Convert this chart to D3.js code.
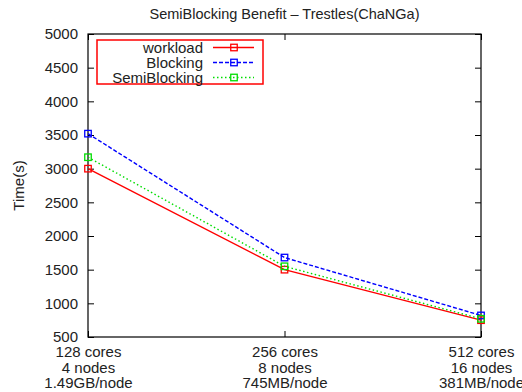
<!DOCTYPE html>
<html>
<head>
<meta charset="utf-8">
<script src="https://cdn.jsdelivr.net/npm/d3@7"></script>
<style>
  body { margin: 0; background: #fff; }
  svg { font-family: "Liberation Sans", Arial, Helvetica, sans-serif; }
</style>
</head>
<body>
<div id="chart"></div>
<script>
// Categories along x (three lines of text each)
const categories = [
  ["128 cores", "4 nodes", "1.49GB/node"],
  ["256 cores", "8 nodes", "745MB/node"],
  ["512 cores", "16 nodes", "381MB/node"],
];
const workload = [3000, 1500, 750];
const blocking = [3520, 1680, 820];
const semiBlocking = [3170, 1550, 770];
const yTicks = [500, 1000, 1500, 2000, 2500, 3000, 3500, 4000, 4500, 5000];

const series = [
  { name: "workload", values: workload, color: "#ff0000", dash: null },
  { name: "Blocking", values: blocking, color: "#0000ff", dash: "4,2" },
  { name: "SemiBlocking", values: semiBlocking, color: "#00dd00", dash: "1.5,2.5" },
];

const W = 522, H = 392;
const M = { top: 34, right: 41, bottom: 55, left: 88 };
const innerW = W - M.left - M.right;
const innerH = H - M.top - M.bottom;
const FS = 15;

const svg = d3.select("#chart").append("svg")
  .attr("width", W).attr("height", H).attr("viewBox", `0 0 ${W} ${H}`);

const g = svg.append("g").attr("transform", `translate(${M.left},${M.top})`);

const x = d3.scalePoint().domain(d3.range(categories.length)).range([0, innerW]);
const y = d3.scaleLinear().domain([500, 5000]).range([innerH, 0]);

// title
svg.append("text")
  .attr("x", M.left + innerW / 2).attr("y", 19)
  .attr("text-anchor", "middle").attr("font-size", 14.5).attr("fill", "#222")
  .text("SemiBlocking Benefit \u2013 Trestles(ChaNGa)");

// y label
svg.append("text")
  .attr("transform", `translate(24,${M.top + innerH / 2}) rotate(-90)`)
  .attr("text-anchor", "middle").attr("font-size", FS).attr("fill", "#222")
  .text("Time(s)");

// y axis: labels on the left, inward ticks on both sides
const yAx = g.append("g").call(d3.axisLeft(y).tickValues(yTicks).tickSize(-6).tickPadding(10).tickFormat(d3.format("d")));
yAx.select(".domain").remove();
yAx.selectAll("text").attr("font-size", FS).attr("fill", "#222").attr("font-family", null);
yAx.selectAll("line").attr("stroke", "#000");

const yAxR = g.append("g").attr("transform", `translate(${innerW},0)`)
  .call(d3.axisRight(y).tickValues(yTicks).tickSize(-6).tickFormat(""));
yAxR.select(".domain").remove();

// x axis: multi-line labels at the bottom, inward ticks top and bottom
const xAx = g.append("g").attr("transform", `translate(0,${innerH})`)
  .call(d3.axisBottom(x).tickSize(-6).tickFormat(""));
xAx.select(".domain").remove();
xAx.selectAll(".tick").each(function (d) {
  const t = d3.select(this).append("text")
    .attr("text-anchor", "middle").attr("font-size", FS).attr("fill", "#222");
  categories[d].forEach((line, i) => {
    t.append("tspan").attr("x", 0).attr("y", 20 + i * 15.5).text(line);
  });
});

const xAxT = g.append("g").call(d3.axisTop(x).tickSize(-6).tickFormat(""));
xAxT.select(".domain").remove();

// frame
g.append("rect").attr("width", innerW).attr("height", innerH)
  .attr("fill", "none").attr("stroke", "#000").attr("stroke-width", 1.2);

// lines and markers
const line = d3.line().x((d, i) => x(i)).y((d) => y(d));
const MK = 6.5;

series.forEach((s) => {
  g.append("path").datum(s.values)
    .attr("d", line).attr("fill", "none")
    .attr("stroke", s.color).attr("stroke-width", 1.4)
    .attr("stroke-dasharray", s.dash);
  g.selectAll(null).data(s.values).enter().append("rect")
    .attr("x", (d, i) => x(i) - MK / 2).attr("y", (d) => y(d) - MK / 2)
    .attr("width", MK).attr("height", MK)
    .attr("fill", "none").attr("stroke", s.color).attr("stroke-width", 1.3);
});

// legend
const lg = svg.append("g").attr("transform", "translate(97,40)");
lg.append("rect").attr("width", 166).attr("height", 44)
  .attr("fill", "#fff").attr("stroke", "#ff0000").attr("stroke-width", 1.5);
series.forEach((s, i) => {
  const cy = 7.5 + i * 15;
  lg.append("text").attr("x", 106).attr("y", cy + 5)
    .attr("text-anchor", "end").attr("font-size", FS).attr("fill", "#222")
    .text(s.name);
  lg.append("line").attr("x1", 116).attr("x2", 157).attr("y1", cy).attr("y2", cy)
    .attr("stroke", s.color).attr("stroke-width", 1.4).attr("stroke-dasharray", s.dash);
  lg.append("rect").attr("x", 137 - MK / 2).attr("y", cy - MK / 2)
    .attr("width", MK).attr("height", MK)
    .attr("fill", "none").attr("stroke", s.color).attr("stroke-width", 1.3);
});
</script>
</body>
</html>
